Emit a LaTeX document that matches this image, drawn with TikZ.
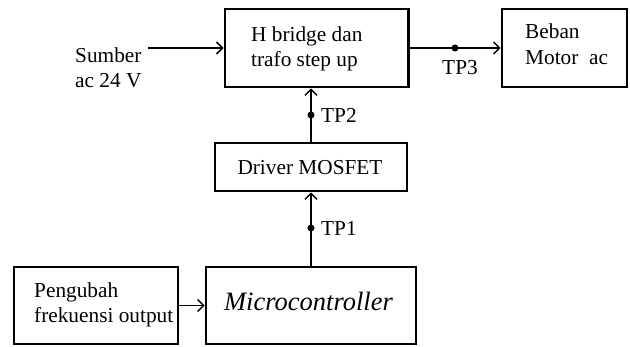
\documentclass[tikz,border=0pt]{standalone}
\usepackage{fontspec}
\setmainfont{Liberation Serif}
\usetikzlibrary{arrows.meta}
\begin{document}
\begin{tikzpicture}[x=1pt,y=-1pt,
  box/.style={draw,line width=2.7pt,inner sep=0pt,minimum width=#1},
  lbl/.style={inner sep=0pt,align=left,font=\fontsize{21.3}{25.5}\selectfont},
  arr/.style={line width=1.5pt,-{Straight Barb[length=6pt,width=12pt,line width=1.5pt]}},
  dot/.style={circle,fill,inner sep=0pt,minimum size=7pt}]
\useasboundingbox (0,0) rectangle (630,347);
% boxes
\node[box=183.5pt,minimum height=78pt] (hb) at (316.7,48) {};
\node[box=125pt,minimum height=78pt] (bb) at (564.5,48) {};
\node[box=192pt,minimum height=48pt] (drv) at (311,167) {};
\node[box=210pt,minimum height=77pt] (mc) at (311,305.5) {};
\node[box=164pt,minimum height=77pt] (pf) at (96,305.5) {};
% texts
\node[lbl,anchor=west] (thb) at (251,49) {H bridge dan\\trafo step up};
\node[lbl,anchor=west] (tbb) at (525,44) {Beban\\Motor~~ac};
\node[lbl] (tdrv) at (310,168) {Driver MOSFET};
\node[lbl,font=\fontsize{26.5}{30}\selectfont\itshape] (tmc) at (308.5,301) {Microcontroller};
\node[lbl,anchor=west] (tpf) at (34,305) {Pengubah\\frekuensi output};
\node[lbl,anchor=west] (tsrc) at (75,68) {Sumber\\ac 24 V};
% connectors
\coordinate (src) at (148,48);
\draw[arr] (src) -- (hb.west);
\draw[arr] (hb.east) -- (bb.west);
\draw[arr] (drv.north) -- (drv.north |- hb.south);
\draw[arr] (mc.north) -- (drv.south);
\draw[arr] (pf.east) -- (mc.west);
% test points
\node[dot] (tp3) at (455,48) {};
\node[dot] (tp2) at (311,115) {};
\node[dot] (tp1) at (311,228) {};
\node[lbl] (ltp3) at (460,68) {TP3};
\node[lbl,anchor=west] (ltp2) at (321,115) {TP2};
\node[lbl,anchor=west] (ltp1) at (321,228) {TP1};
\end{tikzpicture}
\end{document}
